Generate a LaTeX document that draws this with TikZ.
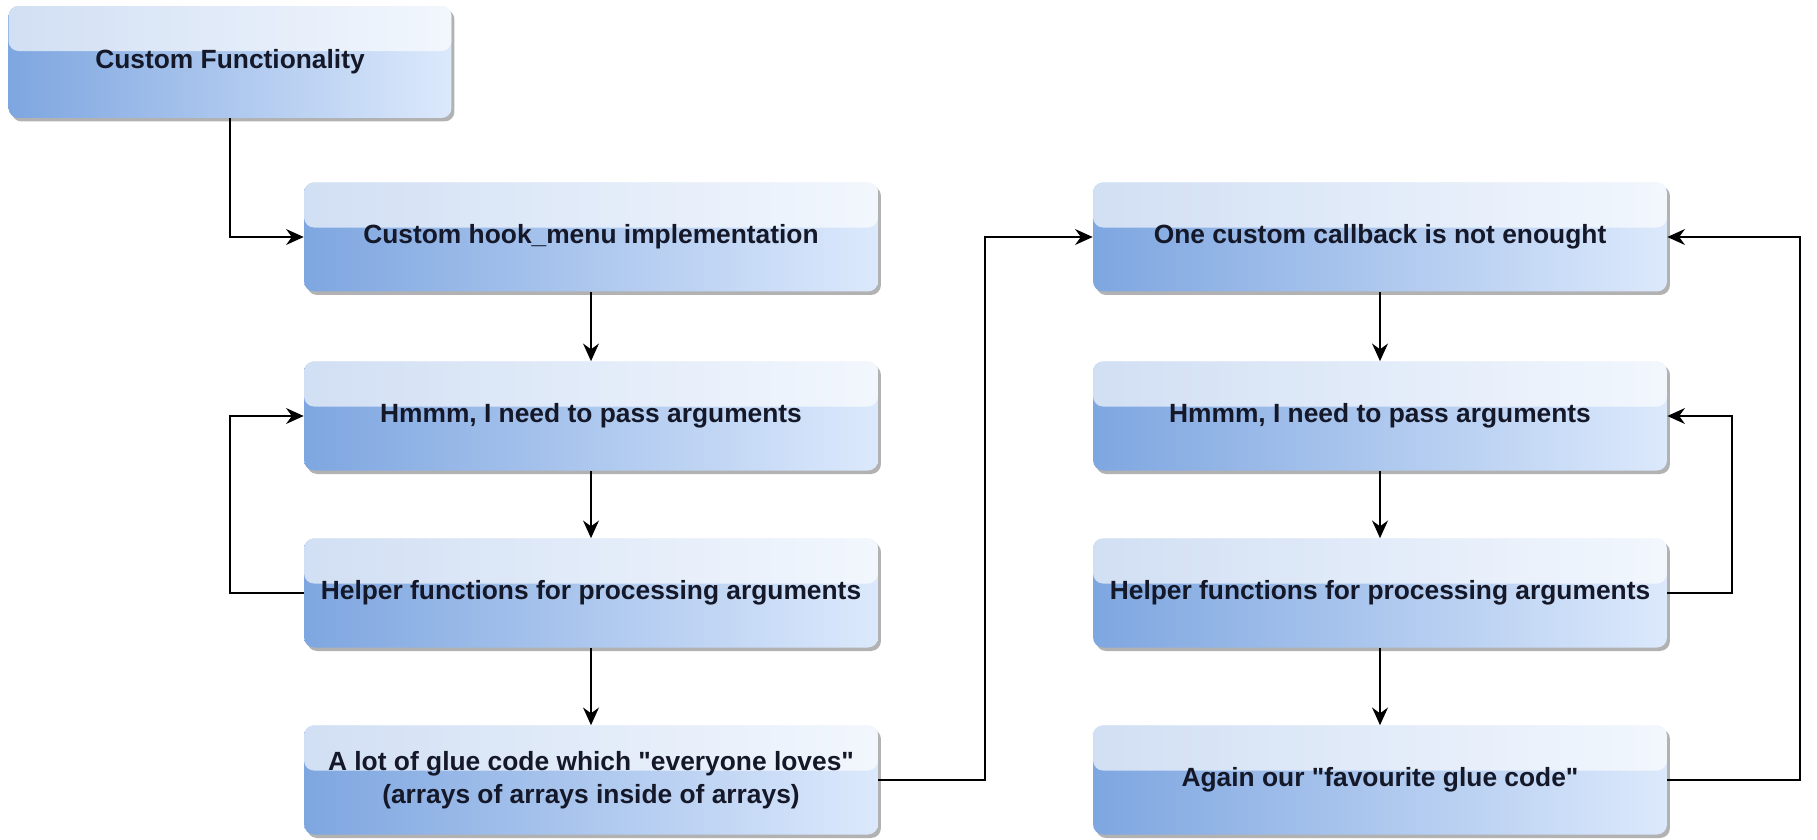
\documentclass[tikz,border=0pt]{standalone}
\usepackage{fontspec}
\setmainfont{Liberation Sans}[Ligatures=TeXOff]
\usetikzlibrary{arrows.meta,shadows,positioning}
\definecolor{boxdark}{RGB}{126,166,224}
\definecolor{boxlight}{RGB}{220,233,252}
\definecolor{textdark}{RGB}{20,24,40}

\begin{document}
\begin{tikzpicture}[x=0.02cm, y=-0.02cm,
    glassbox/.style={rounded corners=0.2cm, minimum width=11.48cm, minimum height=2.18cm,
        left color=boxdark, right color=boxlight, align=center, text=textdark,
        font=\bfseries\fontsize{15}{19}\selectfont,
        drop shadow={shadow xshift=0.06cm, shadow yshift=-0.07cm, fill=black, opacity=0.3},
        path picture={\fill[white, fill opacity=0.65]
            (path picture bounding box.north west) rectangle ([yshift=-0.9cm]path picture bounding box.north east);}},
    flow/.style={-{Stealth[length=10pt, width=9pt]}, line width=1.2pt}]
    \useasboundingbox[fill=white] (0,0) rectangle (1817,839);

    \node[glassbox, minimum width=8.86cm, minimum height=2.24cm] (custom) at (230,62) {Custom Functionality};
    % left column
    \node[glassbox] (hook) at (591,237) {Custom hook\_menu implementation};
    \node[glassbox] (argsL) at (591,416) {Hmmm, I need to pass arguments};
    \node[glassbox] (helperL) at (591,593) {Helper functions for processing arguments};
    \node[glassbox] (glueL) at (591,780) {A lot of glue code which "everyone loves"\\(arrays of arrays inside of arrays)};
    % right column
    \node[glassbox] (callback) at (1380,237) {One custom callback is not enought};
    \node[glassbox] (argsR) at (1380,416) {Hmmm, I need to pass arguments};
    \node[glassbox] (helperR) at (1380,593) {Helper functions for processing arguments};
    \node[glassbox] (glueR) at (1380,780) {Again our "favourite glue code"};

    \draw[flow] (custom.south) |- (hook.west);
    \draw[flow] (hook) -- (argsL);
    \draw[flow] (argsL) -- (helperL);
    \draw[flow] (helperL) -- (glueL);
    \draw[flow] (helperL.west) -- (helperL.west -| custom.south) |- (argsL.west);
    \draw[flow] (glueL.east) -- ++(107,0) |- (callback.west);
    \draw[flow] (callback) -- (argsR);
    \draw[flow] (argsR) -- (helperR);
    \draw[flow] (helperR) -- (glueR);
    \draw[flow] (helperR.east) -- ++(65,0) |- (argsR.east);
    \draw[flow] (glueR.east) -- ++(133,0) |- (callback.east);
\end{tikzpicture}
\end{document}
